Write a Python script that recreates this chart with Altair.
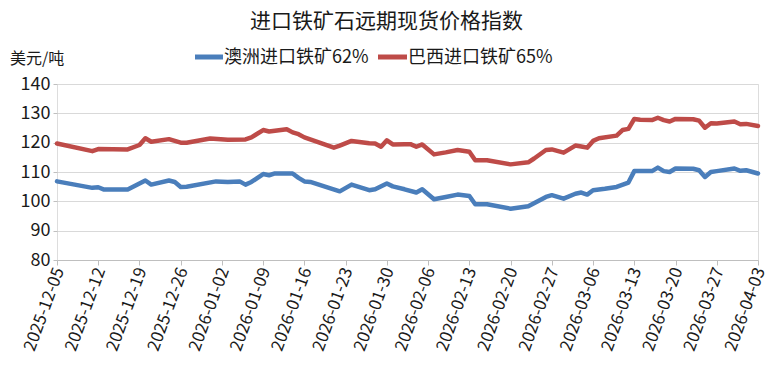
import altair as alt
import pandas as pd

title_text = "进口铁矿石远期现货价格指数"
unit_text = "美元/吨"
series_names = ["澳洲进口铁矿62%", "巴西进口铁矿65%"]
series_colors = ["#4a7ebb", "#be4b48"]

dates_au = ["2025-12-05", "2025-12-11", "2025-12-12", "2025-12-13", "2025-12-17", "2025-12-20",
            "2025-12-21", "2025-12-24", "2025-12-25", "2025-12-26", "2025-12-27", "2026-01-01",
            "2026-01-03", "2026-01-05", "2026-01-06", "2026-01-07", "2026-01-09", "2026-01-10",
            "2026-01-11", "2026-01-14", "2026-01-15", "2026-01-16", "2026-01-17", "2026-01-22",
            "2026-01-24", "2026-01-27", "2026-01-28", "2026-01-30", "2026-01-31", "2026-02-02",
            "2026-02-04", "2026-02-05", "2026-02-07", "2026-02-09", "2026-02-11", "2026-02-13",
            "2026-02-14", "2026-02-16", "2026-02-20", "2026-02-23", "2026-02-26", "2026-02-27",
            "2026-03-01", "2026-03-03", "2026-03-04", "2026-03-05", "2026-03-06", "2026-03-08",
            "2026-03-10", "2026-03-12", "2026-03-13", "2026-03-16", "2026-03-17", "2026-03-18",
            "2026-03-19", "2026-03-20", "2026-03-23", "2026-03-24", "2026-03-25", "2026-03-26",
            "2026-03-27", "2026-03-30", "2026-03-31", "2026-04-01", "2026-04-03"]
values_au = [106.8, 104.6, 104.8, 104.0, 104.0, 107.1,
             105.7, 107.1, 106.6, 104.9, 105.0, 106.8,
             106.6, 106.8, 105.7, 106.6, 109.3, 108.9,
             109.5, 109.5, 108.0, 106.8, 106.6, 103.4,
             105.7, 103.8, 104.1, 106.1, 105.1, 104.1,
             103.0, 104.1, 100.7, 101.5, 102.3, 101.8,
             99.0, 99.0, 97.5, 98.3, 101.5, 102.1,
             100.9, 102.6, 103.0, 102.3, 103.8, 104.3,
             104.9, 106.4, 110.3, 110.3, 111.5, 110.3,
             110.0, 111.2, 111.1, 110.6, 108.3, 110.0,
             110.3, 111.2, 110.4, 110.6, 109.5]

dates_br = ["2025-12-05", "2025-12-11", "2025-12-12", "2025-12-17", "2025-12-19", "2025-12-20",
            "2025-12-21", "2025-12-24", "2025-12-26", "2025-12-27", "2025-12-31", "2026-01-03",
            "2026-01-06", "2026-01-07", "2026-01-09", "2026-01-10", "2026-01-13", "2026-01-14",
            "2026-01-15", "2026-01-16", "2026-01-21", "2026-01-22", "2026-01-24", "2026-01-27",
            "2026-01-28", "2026-01-29", "2026-01-30", "2026-01-31", "2026-02-02", "2026-02-03",
            "2026-02-04", "2026-02-05", "2026-02-07", "2026-02-09", "2026-02-11", "2026-02-13",
            "2026-02-14", "2026-02-16", "2026-02-20", "2026-02-23", "2026-02-24", "2026-02-26",
            "2026-02-27", "2026-03-01", "2026-03-03", "2026-03-04", "2026-03-05", "2026-03-06",
            "2026-03-07", "2026-03-10", "2026-03-11", "2026-03-12", "2026-03-13", "2026-03-14",
            "2026-03-16", "2026-03-17", "2026-03-18", "2026-03-19", "2026-03-20", "2026-03-23",
            "2026-03-24", "2026-03-25", "2026-03-26", "2026-03-27", "2026-03-30", "2026-03-31",
            "2026-04-01", "2026-04-03"]
values_br = [119.7, 117.1, 117.8, 117.7, 119.2, 121.5,
             120.3, 121.2, 120.0, 120.0, 121.4, 121.0,
             121.1, 121.8, 124.3, 123.8, 124.6, 123.5,
             122.9, 121.8, 118.3, 119.0, 120.6, 119.8,
             119.7, 118.6, 120.8, 119.4, 119.5, 119.5,
             118.6, 119.4, 116.0, 116.7, 117.5, 116.9,
             114.0, 114.0, 112.6, 113.3, 114.6, 117.5,
             117.7, 116.6, 119.0, 118.7, 118.3, 120.6,
             121.5, 122.4, 124.3, 124.7, 128.1, 127.8,
             127.7, 128.5, 127.7, 127.2, 128.1, 128.0,
             127.5, 125.1, 126.6, 126.5, 127.2, 126.3,
             126.4, 125.7]

tick_dates = ["2025-12-05", "2025-12-12", "2025-12-19", "2025-12-26", "2026-01-02", "2026-01-09",
              "2026-01-16", "2026-01-23", "2026-01-30", "2026-02-06", "2026-02-13", "2026-02-20",
              "2026-02-27", "2026-03-06", "2026-03-13", "2026-03-20", "2026-03-27", "2026-04-03"]
y_ticks = [80, 90, 100, 110, 120, 130, 140]

FONT = "Noto Sans CJK SC"
TEXT_COLOR = "#1a1a1a"


def dt(s):
    y, m, d = (int(p) for p in s.split("-"))
    return alt.DateTime(year=y, month=m, date=d, utc=True)


df = pd.concat([
    pd.DataFrame({"date": dates_au, "value": values_au, "series": series_names[0]}),
    pd.DataFrame({"date": dates_br, "value": values_br, "series": series_names[1]}),
])

lines = alt.Chart(df).mark_line(strokeWidth=4.5, strokeJoin="round", strokeCap="round").encode(
    x=alt.X("utcyearmonthdate(date):T",
            scale=alt.Scale(domain=[dt(tick_dates[0]), dt(tick_dates[-1])], nice=False),
            axis=alt.Axis(values=[dt(s) for s in tick_dates], format="%Y-%m-%d",
                          labelAngle=290, labelAlign="right", labelBaseline="middle",
                          labelFontSize=17, labelFont=FONT, labelColor=TEXT_COLOR,
                          labelPadding=3, labelOffset=2, tickSize=5, tickColor="#bfbfbf",
                          domainColor="#bfbfbf", grid=False, title=None, labelOverlap=False)),
    y=alt.Y("value:Q", scale=alt.Scale(domain=[80, 140], nice=False, zero=False),
            axis=alt.Axis(values=y_ticks, labelFontSize=18, labelFont=FONT, labelColor=TEXT_COLOR,
                          grid=True, gridColor="#d9d9d9", tickColor="#bfbfbf", tickSize=4,
                          domain=False, labelPadding=3, title=None)),
    color=alt.Color("series:N", scale=alt.Scale(domain=series_names, range=series_colors),
                    legend=None),
    detail="series:N",
)

# legend (symbols + labels)
leg_blue_sym = alt.Chart().mark_rule(strokeWidth=5, color=series_colors[0]).encode(
    x=alt.value(138), x2=alt.value(166), y=alt.value(-27))
leg_blue_txt = alt.Chart().mark_text(fontSize=18, font=FONT, color=TEXT_COLOR, align="left",
                                     baseline="middle").encode(
    x=alt.value(167), y=alt.value(-26), text=alt.value(series_names[0]))
leg_red_sym = alt.Chart().mark_rule(strokeWidth=5, color=series_colors[1]).encode(
    x=alt.value(321), x2=alt.value(350), y=alt.value(-27))
leg_red_txt = alt.Chart().mark_text(fontSize=18, font=FONT, color=TEXT_COLOR, align="left",
                                    baseline="middle").encode(
    x=alt.value(351), y=alt.value(-26), text=alt.value(series_names[1]))

unit = alt.Chart().mark_text(fontSize=16, font=FONT, color=TEXT_COLOR, align="left",
                             baseline="middle").encode(
    x=alt.value(-47), y=alt.value(-25), text=alt.value(unit_text))

chart = alt.layer(lines, leg_blue_sym, leg_blue_txt, leg_red_sym, leg_red_txt, unit).properties(
    width=701, height=176,
    title=alt.TitleParams(title_text, fontSize=21, font=FONT, color=TEXT_COLOR, fontWeight="normal",
                          anchor="middle", frame="group", dx=-21, offset=17),
    autosize=alt.AutoSizeParams(type="none"),
    padding={"left": 49, "top": 76, "right": 18, "bottom": 96},
).configure_view(stroke=None).configure(background="white")

chart.save("out.html", embed_options={"renderer": "svg", "actions": False})
